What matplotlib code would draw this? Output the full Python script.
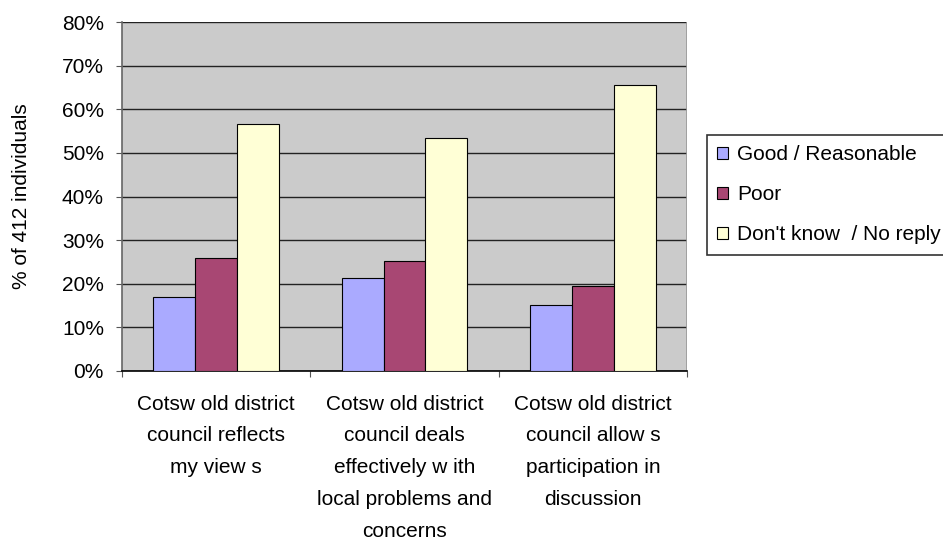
import matplotlib
matplotlib.use("Agg")
import matplotlib.pyplot as plt
import numpy as np

plt.rcParams['font.family'] = ['Liberation Sans', 'DejaVu Sans']

# data
categories = ["Cotsw old district\ncouncil reflects\nmy view s",
              "Cotsw old district\ncouncil deals\neffectively w ith\nlocal problems and\nconcerns",
              "Cotsw old district\ncouncil allow s\nparticipation in\ndiscussion"]
series_names = ["Good / Reasonable", "Poor", "Don't know  / No reply"]
good = [17.0, 21.4, 15.1]
poor = [25.8, 25.3, 19.4]
dont_know = [56.7, 53.3, 65.5]
yticks = [0, 10, 20, 30, 40, 50, 60, 70, 80]

colors = ["#AAAAFF", "#A84773", "#FFFFD6"]

fig = plt.figure(figsize=(9.43, 5.44), dpi=100)
ax = fig.add_axes([122/943, 1-371/544, (687-122)/943, (371-22)/544])
ax.set_facecolor("#CBCBCB")

x = np.arange(len(categories))
w = 1/4.5
for i, vals in enumerate([good, poor, dont_know]):
    ax.bar(x + (i-1)*w, vals, width=w, color=colors[i], edgecolor="black",
           linewidth=0.8, label=series_names[i], zorder=3)

ax.set_xlim(-0.5, len(categories)-0.5)
ax.set_ylim(0, 80)
ax.set_yticks(yticks)
ax.set_yticklabels([f"{t}%" for t in yticks], fontsize=15)
ax.yaxis.grid(True, color="#222222", linewidth=1, zorder=0)
ax.set_axisbelow(True)

# category separators as major ticks, labels on minor ticks at centres
ax.set_xticks([-0.5, 0.5, 1.5, 2.5])
ax.set_xticklabels([])
ax.set_xticks(x, minor=True)
ax.set_xticklabels(categories, minor=True, fontsize=15, linespacing=1.85)
ax.tick_params(axis='x', which='minor', length=0, pad=17)
ax.tick_params(axis='x', which='major', length=4.5, direction='out', color="#555555")
ax.tick_params(axis='y', length=4.5, direction='out', color="#555555", pad=8.5)

for s in ['top', 'right']:
    ax.spines[s].set_visible(False)
ax.spines['left'].set_color("#666666")
ax.spines['bottom'].set_color("black")
ax.spines['left'].set_linewidth(1.2)
ax.spines['bottom'].set_linewidth(1.2)
# right plot-area edge line
ax.axvline(2.5, color="#999999", linewidth=1.2, zorder=1)

ax.set_ylabel("% of 412 individuals", fontsize=15, labelpad=22)

leg = fig.legend(loc='upper left', bbox_to_anchor=(707/943, 1-135/544),
                 fontsize=15, frameon=True, fancybox=False, edgecolor="black",
                 handlelength=0.5, handleheight=0.5, handletextpad=0.45,
                 labelspacing=1.0, borderpad=0.5, borderaxespad=0)
leg.get_frame().set_linewidth(1.2)

fig.savefig("out.png", dpi=100)
